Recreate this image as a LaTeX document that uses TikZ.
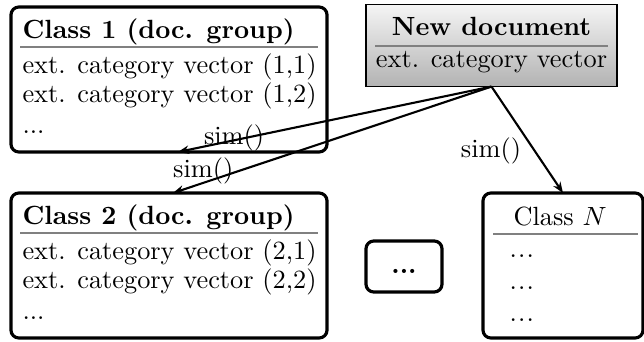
\documentclass[tikz,border=0pt]{standalone}
\usetikzlibrary{arrows.meta}
\begin{document}
\begin{tikzpicture}[x=0.38pt,y=-0.38pt,
  classbox/.style={draw, line width=1.2pt, rounded corners=3pt, inner sep=0pt, outer sep=0pt},
  docbox/.style={draw, line width=0.5pt, top color=black!4, bottom color=black!30, inner sep=0pt, outer sep=0pt},
  txt/.style={anchor=base west, inner sep=0pt},
  ctxt/.style={anchor=base, inner sep=0pt},
  sep/.style={draw=black!50, line width=0.5pt},
  arr/.style={-{Stealth[length=4.2pt,width=3.2pt]}, line width=0.8pt},
  lbl/.style={inner sep=0pt, anchor=center}]
\useasboundingbox (0,0) rectangle (644,341);

% Class 1
\node[classbox, minimum width=120.1pt, minimum height=55.1pt] (c1) at (169,79.5) {};
\node[txt] (c1t) at (22,38) {\textbf{Class 1 (doc. group)}};
\draw[sep] (20,47) -- (318,47);
\node[txt] (c1a) at (22,73) {ext. category vector (1,1)};
\node[txt] (c1b) at (22,102) {ext. category vector (1,2)};
\node[txt] (c1c) at (22,133) {...};

% Class 2
\node[classbox, minimum width=120.1pt, minimum height=55.1pt] (c2) at (169,265.5) {};
\node[txt] (c2t) at (22,224) {\textbf{Class 2 (doc. group)}};
\draw[sep] (20,233) -- (318,233);
\node[txt] (c2a) at (22,259) {ext. category vector (2,1)};
\node[txt] (c2b) at (22,288) {ext. category vector (2,2)};
\node[txt] (c2c) at (22,319) {...};

% New document
\node[docbox, minimum width=95.4pt, minimum height=31.2pt] (nd) at (491.5,45.5) {};
\node[ctxt] (ndt) at (491.5,35) {\textbf{New document}};
\draw[sep] (375,46) -- (608,46);
\node[ctxt] (nda) at (491.5,67) {ext. category vector};

% dots box
\node[classbox, minimum width=28.9pt, minimum height=19.4pt] (dd) at (404,266.5) {};
\node[ctxt] (ddt) at (404,273) {\textbf{...}};

% Class N
\node[classbox, minimum width=60.8pt, minimum height=55.1pt] (cN) at (563,265.5) {};
\node[txt] (cNt) at (513,225) {Class $N$};
\draw[sep] (493,234) -- (638,234);
\node[txt] (cNa) at (509,257.5) {.\kern0.45pt.\kern0.45pt.};
\node[txt] (cNb) at (509,289.5) {.\kern0.45pt.\kern0.45pt.};
\node[txt] (cNc) at (509,321.5) {.\kern0.45pt.\kern0.45pt.};

% arrows
\coordinate (e1) at ([xshift=3.4pt]c1.south);
\coordinate (e2) at ([xshift=1.5pt]c2.north);
\draw[arr] (nd.south) -- (e1) node[lbl, pos=0.821, yshift=0.8pt] {sim()};
\draw[arr] (nd.south) -- (e2) node[lbl, pos=0.905, yshift=4.4pt] {sim()};
\draw[arr] (nd.south) -- (cN.north) node[lbl, pos=0.6, xshift=-16.5pt] {sim()};
\end{tikzpicture}
\end{document}
